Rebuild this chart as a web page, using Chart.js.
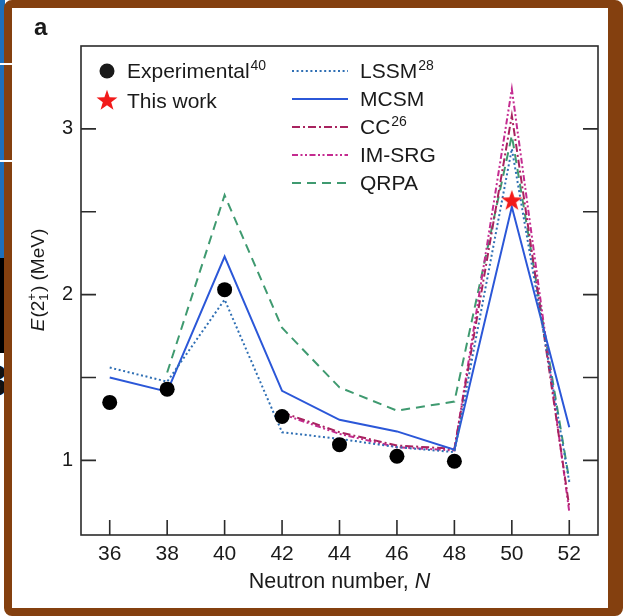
<!DOCTYPE html>
<html>
<head>
<meta charset="utf-8">
<script src="https://cdn.jsdelivr.net/npm/chart.js@4.4.0/dist/chart.umd.min.js"></script>
<style>
  html, body { margin: 0; padding: 0; background: #fff; }
  #page { position: relative; width: 623px; height: 616px; overflow: hidden; background: #fff; }
  .edge { position: absolute; left: 0; width: 5px; }
  #edgeBlue { top: 0; height: 258px; background: #1d6fbb; }
  #edgeBlack { top: 258px; height: 95px; background: #000; }
  #edgeGlyph { position: absolute; left: -17px; top: 356px; font: bold 44px "Liberation Sans", Arial, sans-serif; color: #111; }
  #frame {
    position: absolute; left: 4px; top: 0; width: 619px; height: 616px; box-sizing: border-box;
    border: 8px solid #84400f; border-right-width: 15px; border-radius: 8px; z-index: 1;
  }
  .rule { position: absolute; left: 0; width: 14px; height: 2px; background: #fff; z-index: 2; }
  #chart { position: absolute; left: 0; top: 0; z-index: 3; }
</style>
</head>
<body>
<div id="page">
  <div class="edge" id="edgeBlue"></div>
  <div class="edge" id="edgeBlack"></div>
  <div id="edgeGlyph">3</div>
  <div id="frame"></div>
  <div class="rule" style="top:63px"></div>
  <div class="rule" style="top:160px"></div>
  <canvas id="chart" width="623" height="616"></canvas>
</div>
<script>
const FONT = '"Liberation Sans", Arial, Helvetica, sans-serif';

// neutron numbers and 2+ energies (MeV)
const neutronN = [36, 38, 40, 42, 44, 46, 48, 50, 52];
const expN = [36, 38, 40, 42, 44, 46, 48];
const expE = [1.35, 1.43, 2.03, 1.265, 1.095, 1.025, 0.995];
const thisWorkN = [50];
const thisWorkE = [2.57];
const lssmE = [1.56, 1.475, 1.97, 1.17, 1.13, 1.08, 1.05, 2.88, 0.87];
const mcsmE = [1.5, 1.415, 2.23, 1.42, 1.245, 1.175, 1.065, 2.53, 1.2];
const ccN = [42, 44, 46, 48, 50, 52];
const ccE = [1.29, 1.17, 1.09, 1.07, 3.08, 0.72];
const imsrgN = [42, 44, 46, 48, 50, 52];
const imsrgE = [1.28, 1.16, 1.08, 1.06, 3.24, 0.69];
const qrpaN = [38, 40, 42, 44, 46, 48, 50, 52];
const qrpaE = [1.53, 2.6, 1.8, 1.44, 1.3, 1.355, 2.96, 0.88];

const xTicks = [36, 38, 40, 42, 44, 46, 48, 50, 52];
const yTicks = [1, 1.5, 2, 2.5, 3];
const yLabels = [1, 2, 3];

const pts = (xs, ys) => xs.map((x, i) => ({ x, y: ys[i] }));

// filled five-point star used as a point marker
function makeStar(size, color) {
  const c = document.createElement("canvas");
  c.width = size;
  c.height = size;
  const g = c.getContext("2d");
  const cx = size / 2, cy = size / 2 + 0.8, ro = size / 2, ri = ro * 0.4;
  g.beginPath();
  for (let i = 0; i < 10; i++) {
    const r = i % 2 ? ri : ro;
    const a = -Math.PI / 2 + i * Math.PI / 5;
    g.lineTo(cx + r * Math.cos(a), cy + r * Math.sin(a));
  }
  g.closePath();
  g.fillStyle = color;
  g.fill();
  return c;
}
const star = makeStar(22, "#f21a1a");

function theory(label, sup, xs, ys, color, dash, width) {
  return {
    label, sup,
    data: pts(xs, ys),
    borderColor: color,
    borderDash: dash,
    borderWidth: width,
    pointRadius: 0,
    tension: 0,
    fill: false
  };
}

const datasets = [
  {
    label: "Experimental", sup: "40",
    data: pts(expN, expE),
    showLine: false,
    pointRadius: 7.5,
    pointBackgroundColor: "#000",
    pointBorderWidth: 0
  },
  {
    label: "This work", sup: "",
    data: pts(thisWorkN, thisWorkE),
    showLine: false,
    pointStyle: star
  },
  theory("LSSM", "28", neutronN, lssmE, "#2f6fb4", [2, 2.6], 2),
  theory("MCSM", "", neutronN, mcsmE, "#2b57d8", [], 2),
  theory("CC", "26", ccN, ccE, "#a8235f", [8, 3, 2, 3], 2),
  theory("IM-SRG", "", imsrgN, imsrgE, "#c42b90", [6, 2.5, 2, 2.5, 2, 2.5], 2),
  theory("QRPA", "", qrpaN, qrpaE, "#3f9a70", [9, 6], 2)
];

// plot box and inward ticks on every side that has them
const frameTicks = {
  id: "frameTicks",
  beforeDatasetsDraw(chart) {
    const { ctx, chartArea: a, scales } = chart;
    ctx.save();
    ctx.strokeStyle = "#2b2b2b";
    ctx.lineWidth = 1.6;
    ctx.strokeRect(a.left, a.top, a.right - a.left, a.bottom - a.top);
    ctx.beginPath();
    xTicks.forEach((v) => {
      const px = scales.x.getPixelForValue(v);
      ctx.moveTo(px, a.bottom);
      ctx.lineTo(px, a.bottom - 15);
    });
    yTicks.forEach((v) => {
      const py = scales.y.getPixelForValue(v);
      ctx.moveTo(a.left, py);
      ctx.lineTo(a.left + 15, py);
      ctx.moveTo(a.right, py);
      ctx.lineTo(a.right - 15, py);
    });
    ctx.stroke();
    ctx.restore();
  }
};

function textWithSup(ctx, text, sup, x, y, size) {
  ctx.font = `${size}px ${FONT}`;
  ctx.fillText(text, x, y);
  if (sup) {
    const w = ctx.measureText(text).width;
    ctx.font = `${Math.round(size * 0.66)}px ${FONT}`;
    ctx.fillText(sup, x + w + 1, y - 8);
  }
}

const annotations = {
  id: "annotations",
  afterDraw(chart) {
    const { ctx, chartArea: a } = chart;
    ctx.save();
    ctx.fillStyle = "#1a1a1a";
    ctx.textBaseline = "alphabetic";
    ctx.textAlign = "left";

    // panel letter
    ctx.font = `bold 24px ${FONT}`;
    ctx.fillText("a", 34, 35);

    // legend, left column: markers
    const metas = chart.data.datasets;
    ctx.beginPath();
    ctx.arc(107, 71, 7.5, 0, Math.PI * 2);
    ctx.fill();
    ctx.drawImage(star, 96, 89);
    textWithSup(ctx, metas[0].label, metas[0].sup, 127, 78, 21);
    textWithSup(ctx, metas[1].label, metas[1].sup, 127, 108, 21);

    // legend, right column: line samples
    metas.slice(2).forEach((ds, i) => {
      const base = 78 + 28 * i;
      ctx.save();
      ctx.strokeStyle = ds.borderColor;
      ctx.lineWidth = ds.borderWidth;
      ctx.setLineDash(ds.borderDash);
      ctx.beginPath();
      ctx.moveTo(292, base - 7);
      ctx.lineTo(348, base - 7);
      ctx.stroke();
      ctx.restore();
      textWithSup(ctx, ds.label, ds.sup, 360, base, 21);
    });

    // x axis title
    const fx = 21.5;
    ctx.font = `${fx}px ${FONT}`;
    const t1 = "Neutron number, ";
    const w1 = ctx.measureText(t1).width;
    ctx.font = `italic ${fx}px ${FONT}`;
    const w2 = ctx.measureText("N").width;
    const x0 = (a.left + a.right) / 2 - (w1 + w2) / 2;
    ctx.font = `${fx}px ${FONT}`;
    ctx.fillText(t1, x0, 588);
    ctx.font = `italic ${fx}px ${FONT}`;
    ctx.fillText("N", x0 + w1, 588);

    // y axis title: E(2 1 +) (MeV)
    ctx.translate(44, 280);
    ctx.rotate(-Math.PI / 2);
    const size = 19, small = 13;
    const fE = `italic ${size}px ${FONT}`;
    const fN = `${size}px ${FONT}`;
    ctx.font = fE;
    const wE = ctx.measureText("E").width;
    ctx.font = fN;
    const w2p = ctx.measureText("(2").width;
    const wTail = ctx.measureText(") (MeV)").width;
    ctx.font = `${small}px ${FONT}`;
    const wSS = Math.max(ctx.measureText("+").width, ctx.measureText("1").width);
    let cx = -(wE + w2p + wSS + 2 + wTail) / 2;
    ctx.font = fE;
    ctx.fillText("E", cx, 0);
    cx += wE + 1;
    ctx.font = fN;
    ctx.fillText("(2", cx, 0);
    cx += w2p;
    ctx.font = `${small}px ${FONT}`;
    ctx.fillText("+", cx, -8);
    ctx.fillText("1", cx, 4);
    cx += wSS + 1;
    ctx.font = fN;
    ctx.fillText(") (MeV)", cx, 0);
    ctx.restore();
  }
};

new Chart(document.getElementById("chart"), {
  type: "line",
  data: { datasets },
  options: {
    responsive: false,
    animation: false,
    layout: { padding: { left: 0, right: 25, top: 46, bottom: 0 } },
    plugins: { legend: { display: false }, tooltip: { enabled: false } },
    scales: {
      x: {
        type: "linear",
        min: 35,
        max: 53,
        afterBuildTicks: (s) => { s.ticks = xTicks.map((v) => ({ value: v })); },
        afterFit: (s) => { s.height = 81; },
        grid: { display: false, drawTicks: false },
        border: { display: false },
        ticks: {
          autoSkip: false, maxRotation: 0, padding: 7, color: "#1a1a1a",
          font: { family: FONT, size: 21 }
        }
      },
      y: {
        type: "linear",
        min: 0.55,
        max: 3.5,
        afterBuildTicks: (s) => { s.ticks = yTicks.map((v) => ({ value: v })); },
        afterFit: (s) => { s.width = 81; },
        grid: { display: false, drawTicks: false },
        border: { display: false },
        ticks: {
          padding: 8, color: "#1a1a1a",
          font: { family: FONT, size: 20 },
          callback: (v) => (yLabels.includes(v) ? String(v) : "")
        }
      }
    }
  },
  plugins: [frameTicks, annotations]
});
</script>
</body>
</html>
